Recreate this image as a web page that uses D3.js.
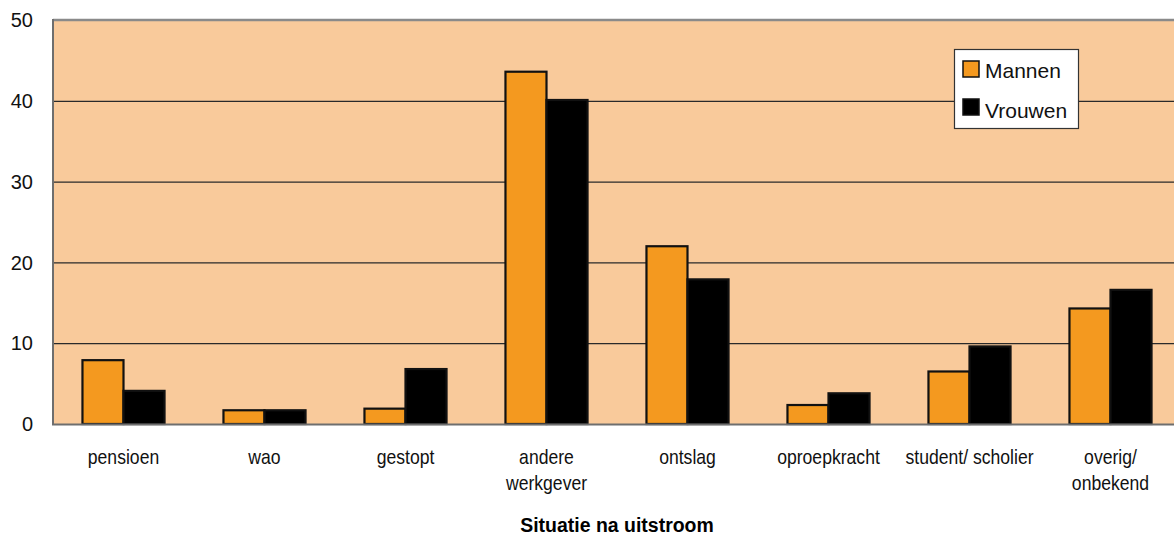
<!DOCTYPE html>
<html>
<head>
<meta charset="utf-8">
<script src="https://cdn.jsdelivr.net/npm/d3@7"></script>
<style>
  html, body { margin: 0; padding: 0; background: #ffffff; }
  svg { display: block; font-family: "Liberation Sans", Arial, sans-serif; }
</style>
</head>
<body>
<svg id="chart" width="1174" height="535"></svg>
<script>
const categories = [["pensioen"], ["wao"], ["gestopt"], ["andere", "werkgever"], ["ontslag"], ["oproepkracht"], ["student/ scholier"], ["overig/", "onbekend"]];
const seriesNames = ["Mannen", "Vrouwen"];
const mannen = [7.9, 1.7, 1.9, 43.6, 22.0, 2.35, 6.5, 14.3];
const vrouwen = [4.1, 1.7, 6.8, 40.1, 17.9, 3.8, 9.6, 16.6];
const yTicks = [0, 10, 20, 30, 40, 50];
const axisTitle = "Situatie na uitstroom";

const colors = { Mannen: "#F4991F", Vrouwen: "#000000" };
const svg = d3.select("#chart");
const pLeft = 53, pRight = 1181, pTop = 20, pBottom = 424;

const keys = categories.map(c => c.join(" "));
const x0 = d3.scaleBand().domain(keys).range([pLeft, pRight]).paddingInner(0.418).paddingOuter(0.209);
const x1 = d3.scaleBand().domain(seriesNames).range([0, x0.bandwidth()]).padding(0);
const y = d3.scaleLinear().domain([0, 50]).range([pBottom, pTop]);

// plot background
svg.append("rect").attr("x", pLeft).attr("y", pTop).attr("width", pRight - pLeft).attr("height", pBottom - pTop).attr("fill", "#F9CA9B");

// gridlines
svg.append("g").selectAll("line").data(yTicks.filter(t => t > 0 && t < 50)).join("line")
  .attr("x1", pLeft).attr("x2", pRight).attr("y1", d => y(d) + 0.5).attr("y2", d => y(d) + 0.5)
  .attr("stroke", "#2a2a2a").attr("stroke-width", 1.2);

// top border
svg.append("line").attr("x1", pLeft).attr("x2", pRight).attr("y1", pTop).attr("y2", pTop).attr("stroke", "#8a8a8a").attr("stroke-width", 2.5);

// bars
const data = keys.map((k, i) => ({ key: k, values: [{ s: "Mannen", v: mannen[i] }, { s: "Vrouwen", v: vrouwen[i] }] }));
const groups = svg.append("g").selectAll("g").data(data).join("g").attr("transform", d => `translate(${x0(d.key)},0)`);
groups.selectAll("rect").data(d => d.values).join("rect")
  .attr("x", d => x1(d.s))
  .attr("y", d => y(d.v))
  .attr("width", x1.bandwidth())
  .attr("height", d => pBottom - y(d.v))
  .attr("fill", d => colors[d.s])
  .attr("stroke", "#111").attr("stroke-width", 2.2);

// axes lines
svg.append("line").attr("x1", pLeft).attr("x2", pLeft).attr("y1", pTop - 1).attr("y2", pBottom + 1).attr("stroke", "#6e6e6e").attr("stroke-width", 2);
svg.append("line").attr("x1", pLeft - 1).attr("x2", pRight).attr("y1", pBottom + 0.5).attr("y2", pBottom + 0.5).attr("stroke", "#6e6e6e").attr("stroke-width", 2);

// y tick labels
svg.append("g").selectAll("text").data(yTicks).join("text")
  .attr("x", 33).attr("y", d => y(d)).attr("dy", "0.36em")
  .attr("text-anchor", "end").attr("font-size", 20).attr("fill", "#111")
  .text(d => d);

// category labels (slightly condensed)
const lab = svg.append("g").selectAll("text").data(categories).join("text")
  .attr("text-anchor", "middle").attr("font-size", 20).attr("fill", "#111")
  .attr("transform", (d, i) => `translate(${x0(keys[i]) + x0.bandwidth() / 2},464) scale(0.88,1)`);
lab.selectAll("tspan").data(d => d).join("tspan")
  .attr("x", 0).attr("y", (d, i) => i * 26).text(d => d);

// axis title
svg.append("text").attr("transform", `translate(${(pLeft + pRight) / 2},532) scale(0.95,1)`).attr("text-anchor", "middle")
  .attr("font-size", 20.5).attr("font-weight", "bold").attr("fill", "#000").text(axisTitle);

// legend
const lg = svg.append("g");
lg.append("rect").attr("x", 954.5).attr("y", 49.5).attr("width", 124).attr("height", 79)
  .attr("fill", "#ffffff").attr("stroke", "#333").attr("stroke-width", 1.2);
const li = lg.selectAll("g").data(seriesNames).join("g").attr("transform", (d, i) => `translate(963,${61 + i * 38})`);
li.append("rect").attr("width", 16).attr("height", 16).attr("fill", d => colors[d]).attr("stroke", "#111").attr("stroke-width", 1.5);
li.append("text").attr("x", 22).attr("y", 9 + 0).attr("dy", "0.36em").attr("font-size", 21).attr("fill", "#111")
  .attr("transform", (d, i) => `translate(0,${i * 2})`).text(d => d);
</script>
</body>
</html>
